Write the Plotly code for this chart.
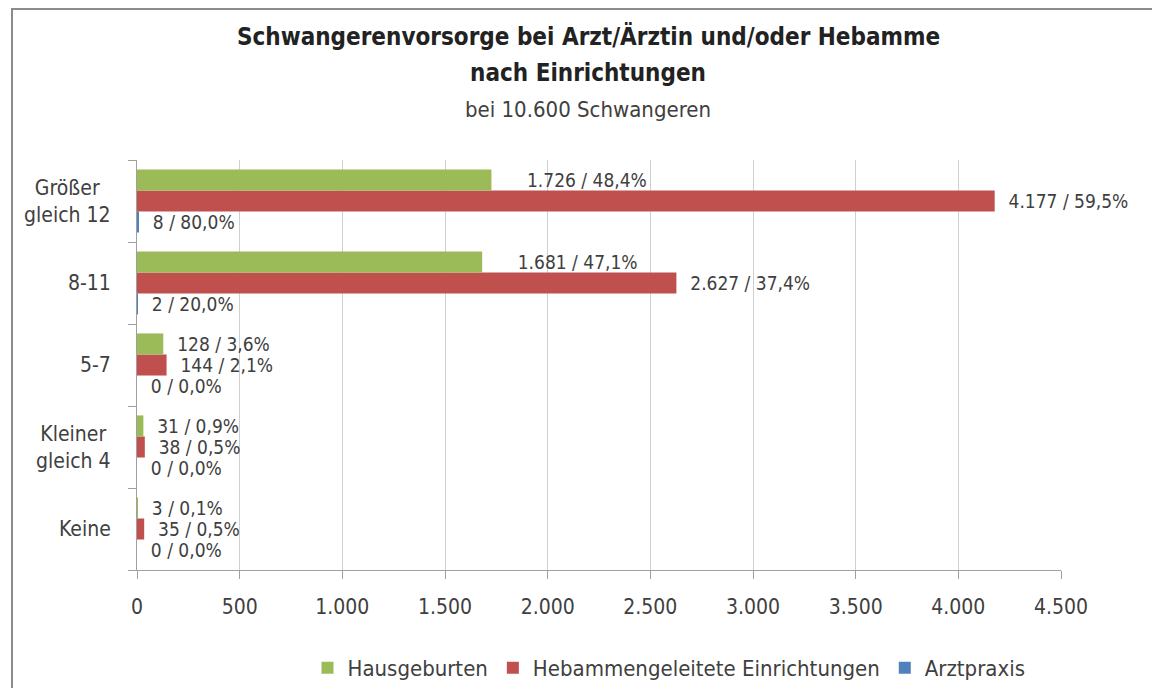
import plotly.graph_objects as go

categories = ["Keine", "Kleiner gleich 4", "5-7", "8-11", "Größer gleich 12"]
category_labels = ["Keine", "Kleiner<br>gleich 4", "5-7", "8-11", "Größer<br>gleich 12"]

haus_values = [3, 31, 128, 1681, 1726]
haus_pct = ["0,1%", "0,9%", "3,6%", "47,1%", "48,4%"]
heb_values = [35, 38, 144, 2627, 4177]
heb_pct = ["0,5%", "0,5%", "2,1%", "37,4%", "59,5%"]
arzt_values = [0, 0, 0, 2, 8]
arzt_pct = ["0,0%", "0,0%", "0,0%", "20,0%", "80,0%"]

x_tickvals = [0, 500, 1000, 1500, 2000, 2500, 3000, 3500, 4000, 4500]
x_ticktext = ["0", "500", "1.000", "1.500", "2.000", "2.500", "3.000", "3.500", "4.000", "4.500"]

FONT = "Liberation Sans Narrow, DejaVu Sans Condensed, Arial Narrow, sans-serif"
TXT = "#404040"
NB = "\u00a0"


def fmt(v):
    return f"{v:,}".replace(",", ".")


def labels(values, pcts, big_pad=False):
    out = []
    for v, p in zip(values, pcts):
        pad = NB * (6 if (big_pad and v > 1000) else 2)
        out.append(f"{pad}{fmt(v)} / {p}")
    return out


fig = go.Figure()
series = [
    ("Arztpraxis", arzt_values, arzt_pct, "#4F81BD", False),
    ("Hebammengeleitete Einrichtungen", heb_values, heb_pct, "#C0504D", False),
    ("Hausgeburten", haus_values, haus_pct, "#9BBB59", True),
]
for name, vals, pcts, col, bp in series:
    fig.add_trace(go.Bar(
        y=categories, x=vals, orientation="h", name=name,
        marker=dict(color=col, line=dict(width=0)),
        text=labels(vals, pcts, bp), textposition="outside",
        textfont=dict(family=FONT, size=19, color=TXT),
        cliponaxis=False, constraintext="none",
    ))

L, R, T, B = 137, 91, 160, 118
W, H = 1152, 688
pw, ph = W - L - R, H - T - B


def px(x):
    return (x - L) / pw


def py(y):
    return (H - B - y) / ph


annotations = [
    dict(text="<b>Schwangerenvorsorge bei Arzt/Ärztin und/oder Hebamme</b>", x=px(588), y=py(37),
         font=dict(family=FONT, size=24, color="#222222")),
    dict(text="<b>nach Einrichtungen</b>", x=px(588), y=py(73),
         font=dict(family=FONT, size=24, color="#222222")),
    dict(text="bei 10.600 Schwangeren", x=px(588), y=py(110),
         font=dict(family=FONT, size=22, color=TXT)),
]
for a in annotations:
    a.update(xref="paper", yref="paper", showarrow=False, xanchor="center", yanchor="middle")

for cat, lab in zip(categories, category_labels):
    annotations.append(dict(
        text=lab, x=0, y=cat, xref="paper", yref="y", xanchor="right", yanchor="middle",
        xshift=-24, align="center", showarrow=False,
        font=dict(family=FONT, size=21, color=TXT),
    ))

fig.update_layout(
    width=W, height=H,
    margin=dict(l=L, r=R, t=T, b=B, autoexpand=False),
    paper_bgcolor="white", plot_bgcolor="white",
    barmode="group", bargap=0.23, bargroupgap=0,
    font=dict(family=FONT, size=21, color=TXT),
    showlegend=True,
    legend=dict(orientation="h", x=px(669), xanchor="center", y=py(668), yanchor="middle",
                traceorder="reversed", font=dict(family=FONT, size=22, color=TXT),
                itemwidth=30),
    annotations=annotations,
    xaxis=dict(range=[0, 4500], tickvals=x_tickvals, ticktext=x_ticktext,
               showgrid=True, gridcolor="#D0D0D0", gridwidth=1, zeroline=False,
               showline=True, linecolor="#A0A0A0", linewidth=1,
               ticks="outside", ticklen=8, tickcolor="#A0A0A0",
               ticklabelstandoff=10,
               tickfont=dict(family=FONT, size=21, color=TXT), fixedrange=True),
    yaxis=dict(categoryorder="array", categoryarray=categories,
               showticklabels=False, showgrid=False, zeroline=False,
               showline=True, linecolor="#A0A0A0", linewidth=1,
               ticks="outside", ticklen=8, tickcolor="#A0A0A0", tickson="boundaries",
               fixedrange=True),
    shapes=[dict(type="rect", xref="paper", yref="paper",
                 x0=px(12), x1=px(1170), y0=py(705), y1=py(9),
                 line=dict(color="#8C8C8C", width=2), fillcolor="rgba(0,0,0,0)", layer="above")],
)

fig.write_html("out.html", config={"displayModeBar": False},
               post_script="document.body.style.margin='0';document.body.style.overflow='hidden';")
